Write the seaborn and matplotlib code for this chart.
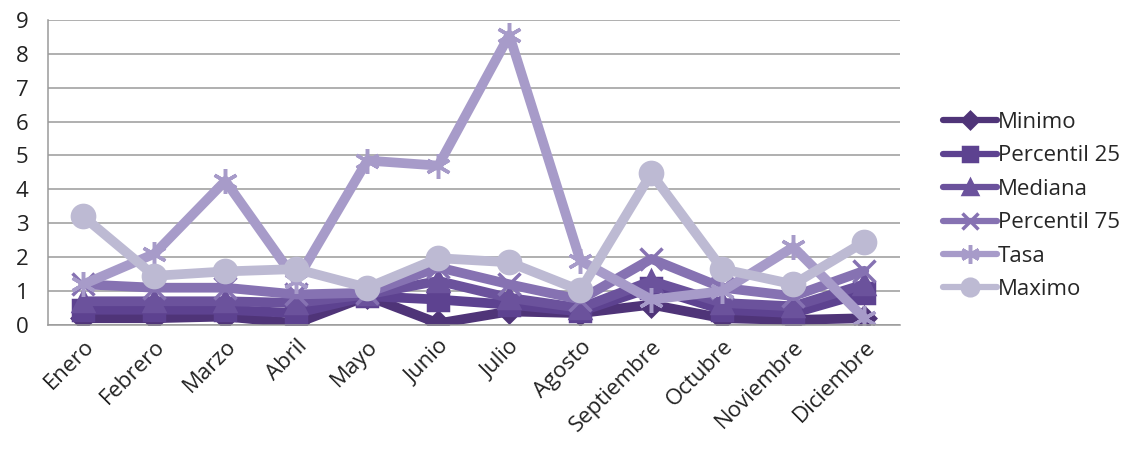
import numpy as np
import pandas as pd
import matplotlib
matplotlib.use("Agg")
import matplotlib.pyplot as plt
import seaborn as sns

meses = ["Enero", "Febrero", "Marzo", "Abril", "Mayo", "Junio", "Julio",
         "Agosto", "Septiembre", "Octubre", "Noviembre", "Diciembre"]
minimo = [0.2, 0.2, 0.25, 0.05, 0.85, 0.05, 0.4, 0.35, 0.6, 0.2, 0.15, 0.2]
percentil25 = [0.45, 0.45, 0.45, 0.35, 0.85, 0.75, 0.6, 0.4, 1.1, 0.45, 0.35, 0.95]
mediana = [0.7, 0.7, 0.7, 0.65, 0.9, 1.3, 0.8, 0.5, 1.3, 0.65, 0.55, 1.2]
percentil75 = [1.2, 1.1, 1.1, 0.9, 0.95, 1.7, 1.2, 0.75, 1.95, 1.1, 0.85, 1.6]
tasa = [1.2, 2.1, 4.25, 1.3, 4.85, 4.7, 8.55, 1.9, 0.75, 1.0, 2.3, 0.2]
maximo = [3.2, 1.45, 1.58, 1.65, 1.1, 1.97, 1.85, 1.02, 4.47, 1.65, 1.2, 2.45]
series_names = ["Minimo", "Percentil 25", "Mediana", "Percentil 75", "Tasa", "Maximo"]
y_ticks = [0, 1, 2, 3, 4, 5, 6, 7, 8, 9]

values = [minimo, percentil25, mediana, percentil75, tasa, maximo]
df = pd.DataFrame({
    "mes": np.tile(np.arange(len(meses)), len(series_names)),
    "valor": np.concatenate(values),
    "serie": np.repeat(series_names, len(meses)),
})

colors = {
    "Minimo": "#4f3478",
    "Percentil 25": "#5d4290",
    "Mediana": "#6b529c",
    "Percentil 75": "#8672b2",
    "Tasa": "#a79bc9",
    "Maximo": "#bdbad3",
}
markers = {
    "Minimo": "D",
    "Percentil 25": "s",
    "Mediana": "^",
    "Percentil 75": "x",
    "Tasa": (6, 2, 0),
    "Maximo": "o",
}
msizes = {"Minimo": 11, "Percentil 25": 14, "Mediana": 14,
          "Percentil 75": 16, "Tasa": 18, "Maximo": 16}

sns.set_theme(style="white")
plt.rcParams["font.family"] = ["Open Sans", "DejaVu Sans"]

fig = plt.figure(figsize=(11.39, 4.61), dpi=100)
ax = fig.add_axes([0.042, 0.295, 0.748, 0.662])

for name in series_names:
    sub = df[df["serie"] == name]
    sns.lineplot(data=sub, x="mes", y="valor", ax=ax, color=colors[name],
                 linewidth=7, marker=markers[name], markersize=msizes[name],
                 markeredgecolor=colors[name], markeredgewidth=2.5,
                 label=name, solid_joinstyle="round", legend=False)

ax.set_xlim(-0.5, len(meses) - 0.5)
ax.set_ylim(0, 9)
ax.set_yticks(y_ticks)
ax.set_yticklabels([str(t) for t in y_ticks], fontsize=16, color="#222222")
ax.set_xticks(range(len(meses)))
ax.set_xticklabels(meses, rotation=45, ha="right", rotation_mode="anchor",
                   fontsize=16, color="#222222")
ax.tick_params(axis="x", length=0, pad=8)
ax.tick_params(axis="y", length=0, pad=14)
ax.set_xlabel("")
ax.set_ylabel("")
ax.yaxis.grid(True, color="#9a9a9a", linewidth=1.1)
ax.set_axisbelow(True)
for s in ["top", "right"]:
    ax.spines[s].set_visible(False)
ax.spines["left"].set_color("#9a9a9a")
ax.spines["bottom"].set_color("#9a9a9a")
ax.spines["left"].set_linewidth(1.1)
ax.spines["bottom"].set_linewidth(1.1)

handles, labels = ax.get_legend_handles_labels()
leg = fig.legend(handles, labels, loc="center left",
                 bbox_to_anchor=(0.8205, 0.553), frameon=False, fontsize=16,
                 handlelength=2.4, handletextpad=0.05, labelspacing=0.56,
                 markerscale=0.75, borderaxespad=0)
for ln in leg.get_lines():
    ln.set_linewidth(4.5)

fig.savefig("out.png", dpi=100)
